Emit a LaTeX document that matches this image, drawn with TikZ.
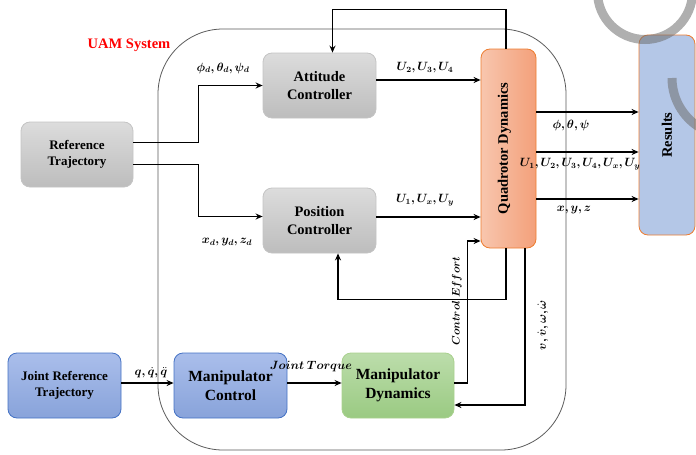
\documentclass[tikz,border=0pt]{standalone}
\usepackage{amsmath}
\usepackage{bm}
\usepackage{fontspec}
\setmainfont{Liberation Serif}
\usetikzlibrary{arrows.meta}
\definecolor{grayT}{HTML}{DCDCDC}
\definecolor{grayB}{HTML}{BDBDBD}
\definecolor{grayD}{HTML}{C4C4C4}
\definecolor{orgL}{HTML}{F8C6AE}
\definecolor{orgR}{HTML}{F3A07A}
\definecolor{orgD}{HTML}{ED7D31}
\definecolor{resF}{HTML}{B4C7E7}
\definecolor{bluT}{HTML}{AABEEB}
\definecolor{bluB}{HTML}{88A3DA}
\definecolor{bluD}{HTML}{4472C4}
\definecolor{grnT}{HTML}{BCDDAB}
\definecolor{grnB}{HTML}{9ACA82}
\definecolor{grnD}{HTML}{A9D18E}
\definecolor{arcC}{HTML}{6E6E6E}
\begin{document}
\begin{tikzpicture}[x=1pt,y=-1pt,
  conn/.style={line width=1.4pt,-{Stealth[length=7pt,width=6pt]}},
  boxbase/.style={rounded corners=9pt, align=center, inner sep=0pt, line width=0.8pt,
    font=\fontsize{14.5}{18.5}\selectfont\bfseries},
  graybox/.style={boxbase, draw=grayD, top color=grayT, bottom color=grayB,
    minimum width=113pt, minimum height=65pt},
  bluebox/.style={boxbase, draw=bluD, top color=bluT, bottom color=bluB,
    minimum width=113pt, minimum height=65pt},
  greenbox/.style={boxbase, draw=grnD, top color=grnT, bottom color=grnB,
    minimum width=112pt, minimum height=65pt},
  lbl/.style={font=\fontsize{12}{14}\selectfont, inner sep=0pt},
  vlbl/.style={font=\fontsize{14.5}{18}\selectfont\bfseries, inner sep=0pt, rotate=90},
  arcstyle/.style={line width=9pt, draw=arcC, draw opacity=0.55}
]
\useasboundingbox (0,0) rectangle (696,455);

% UAM system frame
\draw[line width=0.8pt, draw=black!65, rounded corners=65pt] (158,29) -- (566,29) -- (566,450) -- (158,450) -- cycle;
\node[font=\fontsize{14.5}{16}\selectfont\bfseries, text=red, inner sep=0pt] (uam) at (129,45) {UAM System};

% boxes
\node[graybox, font=\fontsize{13}{16.5}\selectfont\bfseries, minimum width=112pt] (ref) at (77,154.5) {Reference\\Trajectory};
\node[graybox] (att) at (319.5,85.5) {Attitude\\Controller};
\node[graybox] (pos) at (319.5,220.5) {Position\\Controller};
\node[boxbase, draw=orgD, left color=orgL, right color=orgR, minimum width=55pt, minimum height=199pt] (quad) at (508.5,148.5) {};
\node[vlbl] (quadtxt) at ([xshift=-4pt]quad.center) {Quadrotor Dynamics};
\node[boxbase, draw=orgD, fill=resF, minimum width=56pt, minimum height=200pt] (res) at (667,135) {};
\node[vlbl] (restxt) at (res.center) {Results};
\node[bluebox, font=\fontsize{13}{16.5}\selectfont\bfseries] (jref) at (64.5,385.5) {Joint Reference\\Trajectory};
\node[bluebox, font=\fontsize{15.5}{19}\selectfont\bfseries] (mctl) at (230.5,385.5) {Manipulator\\Control};
\node[greenbox, font=\fontsize{15.5}{19}\selectfont\bfseries] (mdyn) at (398,385.5) {Manipulator\\Dynamics};

% connectors
\draw[conn] ([yshift=12pt]ref.east) -- ++(65,0) |- (att.west);
\draw[conn] ([yshift=-10pt]ref.east) -- ++(65,0) |- ([yshift=4pt]pos.west);
\draw[conn] ([yshift=5.5pt]att.east) -- ([yshift=5.5pt]att.east -| quad.west);
\draw[conn] ([yshift=3.5pt]pos.east) -- ([yshift=3.5pt]pos.east -| quad.west);
\draw[conn] ([xshift=-2.5pt]quad.north) -- ++(0,-39) -| ([xshift=13pt]att.north);
\draw[conn] ([yshift=36.5pt]quad.east) -- ([yshift=36.5pt]quad.east -| res.west);
\draw[conn] ([yshift=-3.5pt]quad.east) -- ([yshift=-3.5pt]quad.east -| res.west);
\draw[conn] ([yshift=-50.5pt]quad.east) -- ([yshift=-50.5pt]quad.east -| res.west);
\draw[conn] ([xshift=-2.5pt]quad.south) -- ++(0,51) -| ([xshift=18.5pt]pos.south);
\draw[conn] ([yshift=2.5pt]mdyn.east) -- ++(13,0) |- ([yshift=-92.5pt]quad.west);
\draw[conn] ([xshift=16.5pt]quad.south) |- ([yshift=-19.5pt]mdyn.east);
\draw[conn] ([yshift=2.5pt]jref.east) -- ([yshift=2.5pt]jref.east -| mctl.west);
\draw[conn] ([yshift=2.5pt]mctl.east) -- ([yshift=2.5pt]mctl.east -| mdyn.west);

% labels
\node[lbl] (l1) at (223,68) {$\bm{\phi_d,\theta_d,\psi_d}$};
\node[lbl] (l2) at (227,242) {$\bm{x_d,y_d,z_d}$};
\node[lbl] (l3) at (425,68) {$\bm{U_2,U_3,U_4}$};
\node[lbl] (l4) at (425,200) {$\bm{U_1,U_x,U_y}$};
\node[lbl] (l5) at (571,125) {$\bm{\phi,\theta,\psi}$};
\node[lbl] (l6) at (580,164) {$\bm{U_1,U_2,U_3,U_4,U_x,U_y}$};
\node[lbl] (l7) at (574,210) {$\bm{x,y,z}$};
\node[lbl, rotate=90, font=\fontsize{11}{13}\selectfont] (l8) at (457,301) {$\bm{Control\ Effort}$};
\node[lbl, rotate=90] (l9) at (543,325) {$\bm{v,\dot v,\omega,\dot\omega}$};
\node[lbl] (l10) at (151,373) {$\bm{q,\dot q,\ddot q}$};
\node[lbl, font=\fontsize{11.5}{13}\selectfont] (l11) at (311,367) {$\bm{Joint\ Torque}$};

% grey arcs overlay
\begin{scope}
\clip (0,0) rectangle (696,455);
\draw[arcstyle] (645,-8) circle[radius=47.5pt];
\draw[arcstyle] (730,78) ++(180:58) arc[start angle=180, end angle=245, radius=58pt];
\end{scope}
\end{tikzpicture}
\end{document}
